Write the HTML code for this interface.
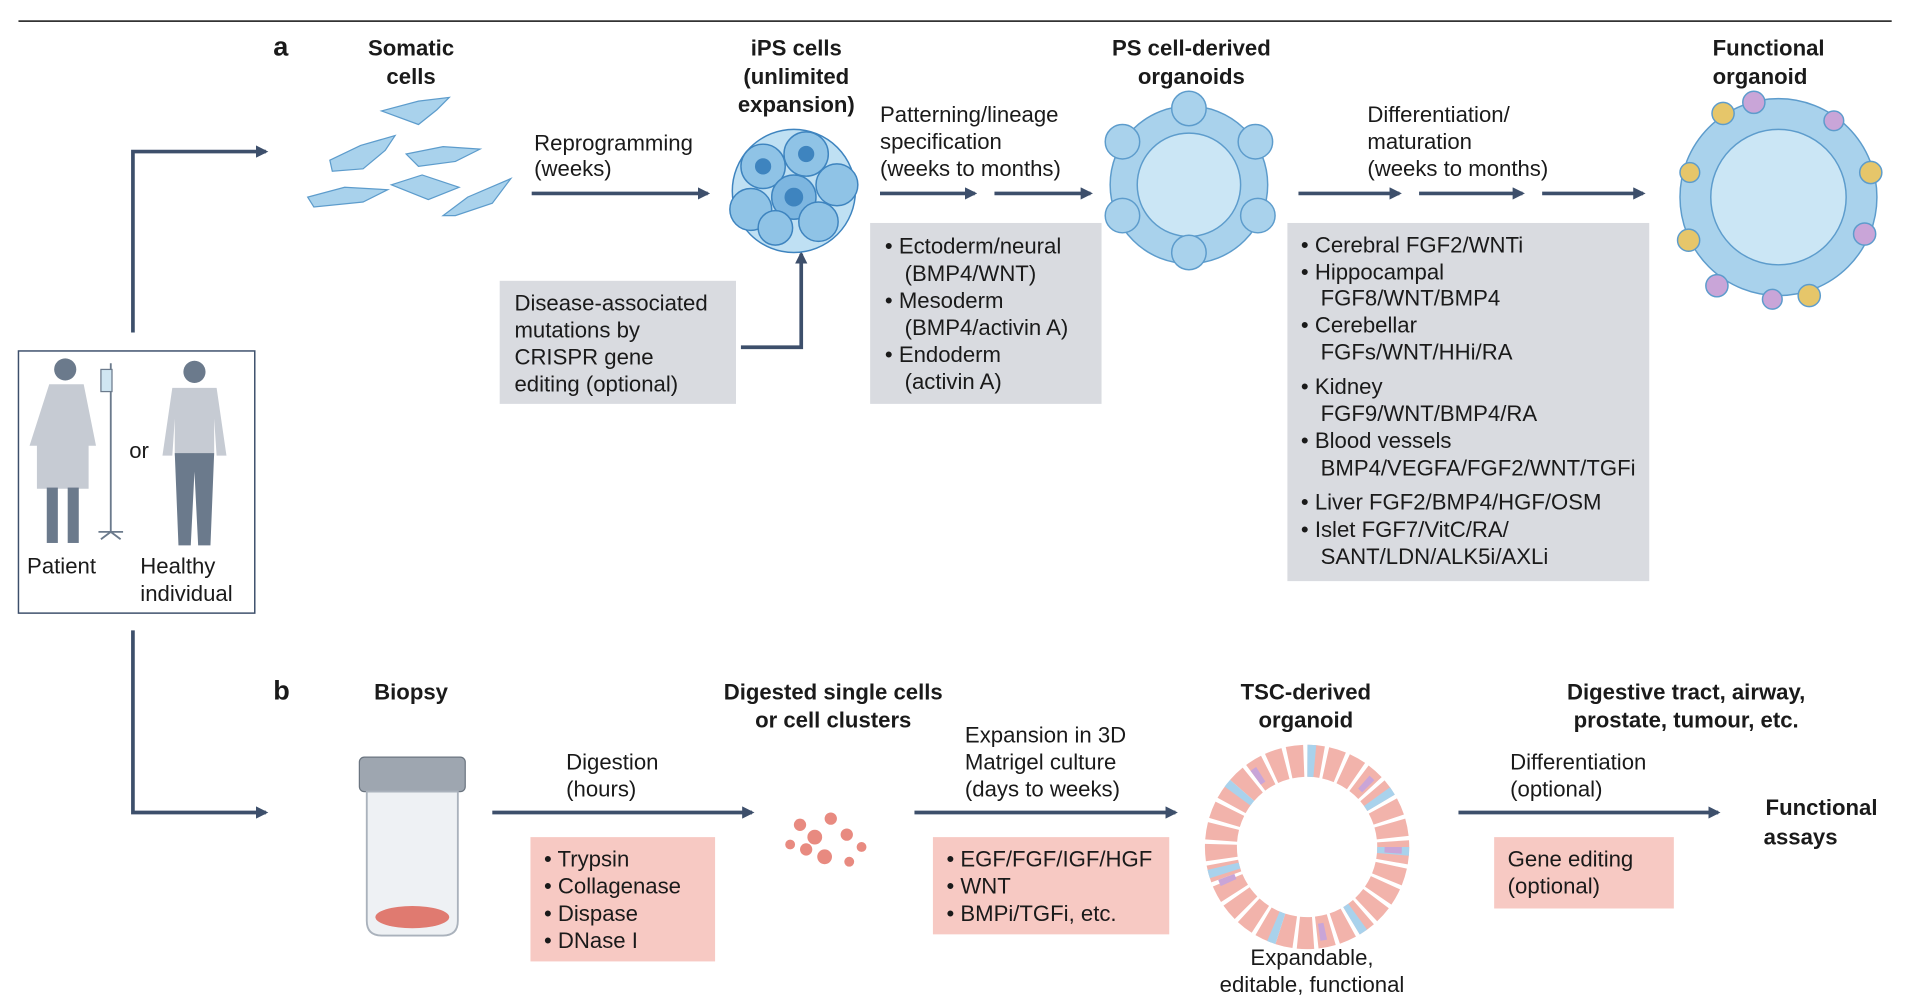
<!DOCTYPE html>
<html><head><meta charset="utf-8"><style>
html,body{margin:0;padding:0;background:#fff;}
svg{display:block}
text{font-family:"Liberation Sans",sans-serif;fill:#1a1a1a;}
.t{font-size:18px}
.b{font-size:18px;font-weight:bold}
</style></head><body>
<svg width="1920" height="1001" viewBox="0 0 1560 813" xmlns="http://www.w3.org/2000/svg">
<defs>
<marker id="ar" markerWidth="10" markerHeight="10" refX="8" refY="5" orient="auto" markerUnits="userSpaceOnUse">
<path d="M0,0 L10,5 L0,10 z" fill="#3d4f6b"/></marker>
</defs>
<line x1="15" y1="17" x2="1537" y2="17" stroke="#333" stroke-width="1.5"/>
<text x="222" y="45" style="font-size:22px;font-weight:bold">a</text>
<text class="b" text-anchor="middle" x="334" y="45">Somatic</text>
<text class="b" text-anchor="middle" x="334" y="68">cells</text>
<text class="b" text-anchor="middle" x="647" y="45">iPS cells</text>
<text class="b" text-anchor="middle" x="647" y="68">(unlimited</text>
<text class="b" text-anchor="middle" x="647" y="91">expansion)</text>
<text class="b" text-anchor="middle" x="968" y="45">PS cell-derived</text>
<text class="b" text-anchor="middle" x="968" y="68">organoids</text>
<text class="b" text-anchor="middle" x="1437" y="45">Functional</text>
<text class="b" text-anchor="middle" x="1430" y="68">organoid</text>

<g stroke="#3d4f6b" stroke-width="3" fill="none" marker-end="url(#ar)">
<line x1="432" y1="157" x2="575" y2="157"/>
<line x1="715" y1="157" x2="792" y2="157"/>
<line x1="808" y1="157" x2="886" y2="157"/>
<line x1="1055" y1="157" x2="1137" y2="157"/>
<line x1="1153" y1="157" x2="1237" y2="157"/>
<line x1="1253" y1="157" x2="1335" y2="157"/>
<path d="M602,282 H651 V206"/>
<path d="M108,270 V123 H216"/>
<path d="M108,512 V660 H216"/>
<line x1="400" y1="660" x2="611" y2="660"/>
<line x1="743" y1="660" x2="955" y2="660"/>
<line x1="1185" y1="660" x2="1396" y2="660"/>
</g>

<text class="t" x="434" y="122">Reprogramming</text>
<text class="t" x="434" y="143">(weeks)</text>
<text class="t" x="715" y="99">Patterning/lineage</text>
<text class="t" x="715" y="121">specification</text>
<text class="t" x="715" y="143">(weeks to months)</text>
<text class="t" x="1111" y="99">Differentiation/</text>
<text class="t" x="1111" y="121">maturation</text>
<text class="t" x="1111" y="143">(weeks to months)</text>

<rect x="406" y="228" width="192" height="100" fill="#d9dbe0"/>
<text class="t" x="418" y="252">Disease-associated</text>
<text class="t" x="418" y="274">mutations by</text>
<text class="t" x="418" y="296">CRISPR gene</text>
<text class="t" x="418" y="318">editing (optional)</text>

<rect x="707" y="181" width="188" height="147" fill="#d9dbe0"/>
<text class="t" x="719" y="206">• Ectoderm/neural</text>
<text class="t" x="735" y="228">(BMP4/WNT)</text>
<text class="t" x="719" y="250">• Mesoderm</text>
<text class="t" x="735" y="272">(BMP4/activin A)</text>
<text class="t" x="719" y="294">• Endoderm</text>
<text class="t" x="735" y="316">(activin A)</text>

<rect x="1046" y="181" width="294" height="291" fill="#d9dbe0"/>
<text class="t" x="1057" y="205">• Cerebral FGF2/WNTi</text>
<text class="t" x="1057" y="227">• Hippocampal</text>
<text class="t" x="1073" y="248">FGF8/WNT/BMP4</text>
<text class="t" x="1057" y="270">• Cerebellar</text>
<text class="t" x="1073" y="292">FGFs/WNT/HHi/RA</text>
<text class="t" x="1057" y="320">• Kidney</text>
<text class="t" x="1073" y="342">FGF9/WNT/BMP4/RA</text>
<text class="t" x="1057" y="364">• Blood vessels</text>
<text class="t" x="1073" y="386">BMP4/VEGFA/FGF2/WNT/TGFi</text>
<text class="t" x="1057" y="414">• Liver FGF2/BMP4/HGF/OSM</text>
<text class="t" x="1057" y="436">• Islet FGF7/VitC/RA/</text>
<text class="t" x="1073" y="458">SANT/LDN/ALK5i/AXLi</text>

<g fill="#a9d2ec" stroke="#5d9ccc" stroke-width="1">
<path d="M310,90 l30,-8 l25,-3 l-10,10 l-15,12 z"/>
<path d="M268,130 l25,-12 l28,-8 l-8,12 l-18,15 l-25,2 z"/>
<path d="M330,125 l30,-6 l30,2 l-20,10 l-30,4 z"/>
<path d="M250,160 l30,-8 l35,2 l-20,10 l-40,4 z"/>
<path d="M318,150 l25,-8 l30,10 l-25,10 z"/>
<path d="M360,175 l20,-15 l35,-15 l-15,20 l-30,10 z"/>
</g>
<g stroke="#3e84bf" stroke-width="1.2">
<circle cx="645" cy="155" r="50" fill="#bfe0f3"/>
<circle cx="620" cy="135" r="18" fill="#8fc3e6"/>
<circle cx="655" cy="125" r="18" fill="#8fc3e6"/>
<circle cx="680" cy="150" r="17" fill="#8fc3e6"/>
<circle cx="610" cy="170" r="17" fill="#8fc3e6"/>
<circle cx="645" cy="160" r="18" fill="#7db6e0"/>
<circle cx="665" cy="180" r="16" fill="#8fc3e6"/>
<circle cx="630" cy="185" r="14" fill="#8fc3e6"/>
<circle cx="645" cy="160" r="7" fill="#3e84bf"/>
<circle cx="655" cy="125" r="6" fill="#3e84bf"/>
<circle cx="620" cy="135" r="6" fill="#3e84bf"/>
</g>
<g stroke="#5d9ccc" stroke-width="1.2">
<circle cx="966" cy="150" r="64" fill="#a9d2ec"/>
<circle cx="966" cy="150" r="42" fill="#cbe6f5"/>
<g fill="#a9d2ec">
<circle cx="966" cy="88" r="14"/><circle cx="1020" cy="115" r="14"/><circle cx="1022" cy="175" r="14"/>
<circle cx="966" cy="205" r="14"/><circle cx="912" cy="175" r="14"/><circle cx="912" cy="115" r="14"/>
</g></g>
<g stroke="#5d9ccc" stroke-width="1.2">
<circle cx="1445" cy="160" r="80" fill="#a9d2ec"/>
<circle cx="1445" cy="160" r="55" fill="#cbe6f5"/>
<g fill="#e6c66a"><circle cx="1400" cy="92" r="9"/><circle cx="1520" cy="140" r="9"/><circle cx="1372" cy="195" r="9"/><circle cx="1470" cy="240" r="9"/><circle cx="1373" cy="140" r="8"/></g>
<g fill="#c9a5d8"><circle cx="1425" cy="83" r="9"/><circle cx="1515" cy="190" r="9"/><circle cx="1395" cy="232" r="9"/><circle cx="1490" cy="98" r="8"/><circle cx="1440" cy="243" r="8"/></g>
</g>

<rect x="15" y="285" width="192" height="213" fill="#fff" stroke="#3d4f6b" stroke-width="1.2"/>
<g fill="#6b7a8c">
<circle cx="53" cy="300" r="9"/>
<path d="M40,312 h28 l10,50 h-6 v35 h-42 v-35 h-6 z" fill="#c6cbd3"/>
<rect x="38" y="396" width="9" height="45"/><rect x="55" y="396" width="9" height="45"/>
<circle cx="158" cy="302" r="9"/>
<path d="M140,315 h36 l8,55 h-8 l-2,-30 v30 h-32 v-30 l-2,30 h-8 z" fill="#c6cbd3"/>
<path d="M142,368 h32 l-3,75 h-10 l-3,-60 l-3,60 h-10 z"/>
</g>
<line x1="90" y1="295" x2="90" y2="432" stroke="#6b7a8c" stroke-width="1.5"/>
<path d="M80,432 h20 M90,432 l-8,6 M90,432 l8,6" stroke="#6b7a8c" stroke-width="1.5"/>
<rect x="82" y="300" width="9" height="18" fill="#d0e6f2" stroke="#6b7a8c"/>
<text class="t" x="105" y="372">or</text>
<text class="t" x="22" y="466">Patient</text>
<text class="t" x="114" y="466">Healthy</text>
<text class="t" x="114" y="488">individual</text>

<text x="222" y="568" style="font-size:22px;font-weight:bold">b</text>
<text class="b" text-anchor="middle" x="334" y="568">Biopsy</text>
<text class="b" text-anchor="middle" x="677" y="568">Digested single cells</text>
<text class="b" text-anchor="middle" x="677" y="591">or cell clusters</text>
<text class="b" text-anchor="middle" x="1061" y="568">TSC-derived</text>
<text class="b" text-anchor="middle" x="1061" y="591">organoid</text>
<text class="b" text-anchor="middle" x="1370" y="568">Digestive tract, airway,</text>
<text class="b" text-anchor="middle" x="1370" y="591">prostate, tumour, etc.</text>
<text class="b" text-anchor="middle" x="1480" y="662">Functional</text>
<text class="b" text-anchor="middle" x="1463" y="686">assays</text>

<text class="t" x="460" y="625">Digestion</text>
<text class="t" x="460" y="647">(hours)</text>
<text class="t" x="784" y="603">Expansion in 3D</text>
<text class="t" x="784" y="625">Matrigel culture</text>
<text class="t" x="784" y="647">(days to weeks)</text>
<text class="t" x="1227" y="625">Differentiation</text>
<text class="t" x="1227" y="647">(optional)</text>

<rect x="431" y="680" width="150" height="101" fill="#f7c9c3"/>
<text class="t" x="442" y="704">• Trypsin</text>
<text class="t" x="442" y="726">• Collagenase</text>
<text class="t" x="442" y="748">• Dispase</text>
<text class="t" x="442" y="770">• DNase I</text>
<rect x="758" y="680" width="192" height="79" fill="#f7c9c3"/>
<text class="t" x="769" y="704">• EGF/FGF/IGF/HGF</text>
<text class="t" x="769" y="726">• WNT</text>
<text class="t" x="769" y="748">• BMPi/TGFi, etc.</text>
<rect x="1214" y="680" width="146" height="58" fill="#f7c9c3"/>
<text class="t" x="1225" y="704">Gene editing</text>
<text class="t" x="1225" y="726">(optional)</text>

<rect x="292" y="615" width="86" height="28" rx="4" fill="#9ea6b0" stroke="#6b7580"/>
<path d="M298,643 h74 v105 q0,12 -12,12 h-50 q-12,0 -12,-12 z" fill="#eef1f4" stroke="#aab2bc" stroke-width="1.5"/>
<ellipse cx="335" cy="745" rx="30" ry="9" fill="#e07a70"/>
<g fill="#e88a80">
<circle cx="650" cy="670" r="5"/><circle cx="662" cy="680" r="6"/><circle cx="675" cy="665" r="5"/><circle cx="688" cy="678" r="5"/>
<circle cx="655" cy="690" r="5"/><circle cx="670" cy="696" r="6"/><circle cx="690" cy="700" r="4"/><circle cx="642" cy="686" r="4"/><circle cx="700" cy="688" r="4"/>
</g>
<circle cx="1062" cy="688" r="70" fill="none" stroke="#f2b3ab" stroke-width="26" stroke-dasharray="12 3"/>
<circle cx="1062" cy="688" r="70" fill="none" stroke="#a9d2ec" stroke-width="26" stroke-dasharray="6 60"/>
<circle cx="1062" cy="688" r="70" fill="none" stroke="#c9a5d8" stroke-width="14" stroke-dasharray="5 90"/>
<text class="t" text-anchor="middle" x="1066" y="784">Expandable,</text>
<text class="t" text-anchor="middle" x="1066" y="806">editable, functional</text>
</svg>
</body></html>
